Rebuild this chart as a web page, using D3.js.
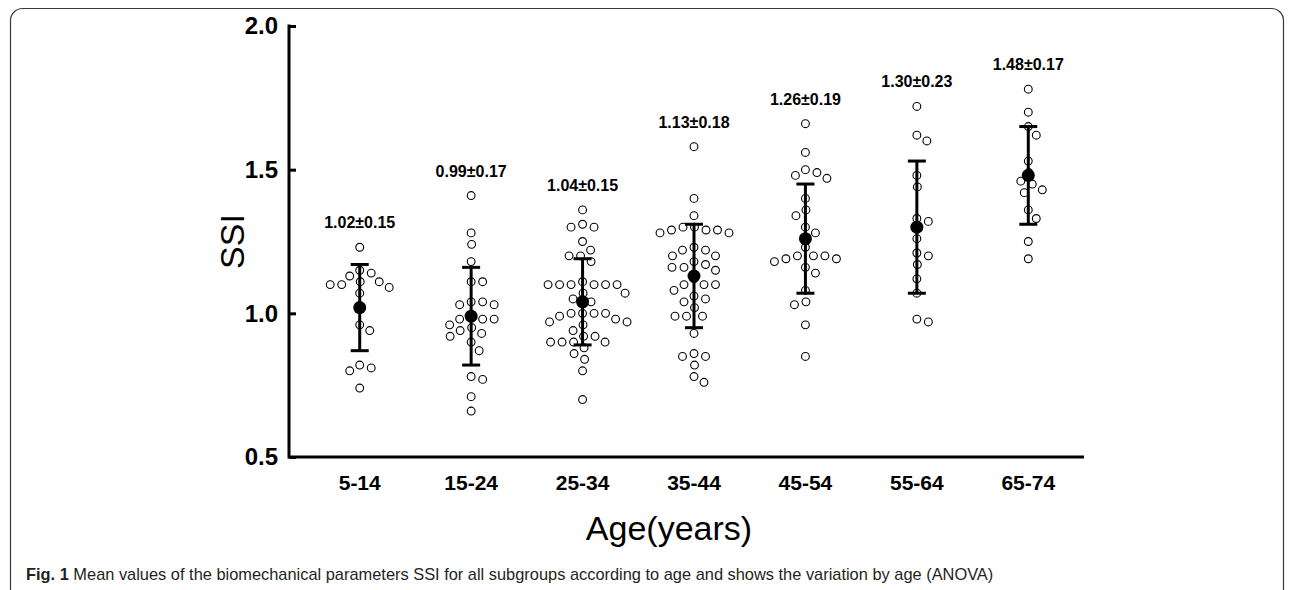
<!DOCTYPE html>
<html>
<head>
<meta charset="utf-8">
<script src="https://cdn.jsdelivr.net/npm/d3@7/dist/d3.min.js"></script>
<style>
  body { margin: 0; background: #fff; }
  text { font-family: "Liberation Sans", Arial, Helvetica, sans-serif; }
</style>
</head>
<body>
<svg width="1292" height="590"></svg>
<script>
// age groups and summary stats (mean ± SD as printed)
var ageGroups = ["5-14", "15-24", "25-34", "35-44", "45-54", "55-64", "65-74"];
var means = [1.02, 0.99, 1.04, 1.13, 1.26, 1.30, 1.48];
var sds = [0.15, 0.17, 0.15, 0.18, 0.19, 0.23, 0.17];
var yTicks = [0.5, 1.0, 1.5, 2.0];

// individual SSI values
var ssi5_14 = [1.23, 1.15, 1.14, 1.13, 1.11, 1.10, 1.09, 1.10, 1.11, 1.07, 0.96, 0.94, 0.81, 0.80, 0.82, 0.74];
var ssi15_24 = [1.41, 1.28, 1.24, 1.18, 1.11, 1.11, 1.04, 1.03, 1.03, 1.04, 0.99, 0.98, 0.98, 0.98,
  0.96, 0.94, 0.92, 0.93, 0.95, 0.90, 0.87, 0.78, 0.77, 0.71, 0.66];
var ssi25_34 = [1.36, 1.30, 1.30, 1.31, 1.25, 1.22, 1.20, 1.18, 1.20, 1.10, 1.10, 1.10, 1.10, 1.10,
  1.11, 1.07, 1.07, 1.05, 1.04, 1.00, 0.99, 1.00, 1.00, 0.98, 0.96, 0.97, 0.97, 0.94, 0.92, 0.92,
  0.90, 0.90, 0.90, 0.88, 0.86, 0.84, 0.80, 0.70, 1.10, 1.00, 0.90];
var ssi35_44 = [1.58, 1.40, 1.34, 1.29, 1.28, 1.28, 1.29, 1.30, 1.22, 1.23, 1.20, 1.20, 1.16, 1.15,
  1.17, 1.18, 1.12, 1.10, 1.10, 1.08, 1.06, 1.04, 1.02, 0.99, 0.99, 0.93, 0.85, 0.86, 0.82, 0.78,
  0.76, 1.29, 1.22, 1.16, 1.10, 1.05, 0.99, 0.85, 1.30];
var ssi45_54 = [1.66, 1.56, 1.50, 1.48, 1.47, 1.49, 1.40, 1.36, 1.34, 1.30, 1.28, 1.23, 1.20, 1.19,
  1.18, 1.19, 1.20, 1.20, 1.16, 1.14, 1.08, 1.03, 1.04, 0.96, 0.85];
var ssi55_64 = [1.72, 1.62, 1.60, 1.48, 1.44, 1.33, 1.32, 1.26, 1.20, 1.21, 1.17, 1.12, 1.07, 0.97, 0.98];
var ssi65_74 = [1.78, 1.70, 1.65, 1.62, 1.53, 1.49, 1.46, 1.45, 1.43, 1.42, 1.36, 1.33, 1.25, 1.19];
var groupValues = [ssi5_14, ssi15_24, ssi25_34, ssi35_44, ssi45_54, ssi55_64, ssi65_74];

var svg = d3.select("svg");

// figure frame
svg.append("rect")
  .attr("x", 10.5).attr("y", 8.5)
  .attr("width", 1273).attr("height", 640)
  .attr("rx", 12)
  .attr("fill", "none")
  .attr("stroke", "#3a3a3a")
  .attr("stroke-width", 1.2);

var x = d3.scaleBand().domain(ageGroups).range([304, 1084]);
var y = d3.scaleLinear().domain([0.5, 2.0]).range([457, 26]);
var axisX = 289;

var g = svg.append("g");

// y axis: ticks point inward
var yAxis = g.append("g")
  .attr("transform", "translate(" + axisX + ",0)")
  .call(d3.axisRight(y).tickValues(yTicks).tickSize(7).tickFormat(d3.format(".1f")));
yAxis.select(".domain").remove();
yAxis.selectAll(".tick line").attr("stroke", "#000").attr("stroke-width", 3);
yAxis.selectAll(".tick text")
  .attr("x", -11)
  .attr("text-anchor", "end")
  .attr("font-size", 24)
  .attr("font-weight", "bold")
  .attr("fill", "#000");
g.append("line")
  .attr("x1", axisX).attr("x2", axisX)
  .attr("y1", y(2.0) - 1.5).attr("y2", y(0.5) + 1.5)
  .attr("stroke", "#000").attr("stroke-width", 3);

// x axis
var xAxis = g.append("g")
  .attr("transform", "translate(0," + y(0.5) + ")")
  .call(d3.axisBottom(x).tickSize(0).tickPadding(0));
xAxis.select(".domain").remove();
xAxis.selectAll(".tick text")
  .attr("dy", "1.55em")
  .attr("font-size", 21)
  .attr("font-weight", "bold")
  .attr("fill", "#000");
g.append("line")
  .attr("x1", axisX).attr("x2", x.range()[1])
  .attr("y1", y(0.5)).attr("y2", y(0.5))
  .attr("stroke", "#000").attr("stroke-width", 3);

// axis titles
g.append("text")
  .attr("transform", "translate(244," + y(1.25) + ") rotate(-90)")
  .attr("text-anchor", "middle")
  .attr("font-size", 34)
  .text("SSI");
g.append("text")
  .attr("x", 669).attr("y", 540)
  .attr("text-anchor", "middle")
  .attr("font-size", 34)
  .text("Age(years)");

// simple beeswarm so open circles do not overlap
function swarm(values, cx, d) {
  var pts = values.map(function(v) { return { v: v, y: y(v) }; })
    .sort(function(a, b) { return a.y - b.y; });
  var placed = [];
  pts.forEach(function(p) {
    var off = null;
    for (var k = 0; k < 400 && off === null; k++) {
      var tries = k === 0 ? [0] : [k * 0.5, -k * 0.5];
      for (var t = 0; t < tries.length; t++) {
        var ok = placed.every(function(q) {
          var dx = q.x - (cx + tries[t]), dy = q.y - p.y;
          return dx * dx + dy * dy >= d * d;
        });
        if (ok) { off = tries[t]; break; }
      }
    }
    p.x = cx + off;
    placed.push(p);
  });
  return placed;
}

ageGroups.forEach(function(grp, i) {
  var cx = x(grp) + x.bandwidth() / 2;
  var pts = swarm(groupValues[i], cx, 11.5);

  g.append("g").selectAll("circle")
    .data(pts)
    .enter().append("circle")
    .attr("cx", function(d) { return d.x; })
    .attr("cy", function(d) { return d.y; })
    .attr("r", 3.9)
    .attr("fill", "none")
    .attr("stroke", "#000")
    .attr("stroke-width", 1.1);

  // mean ± SD
  var top = y(means[i] + sds[i]), bot = y(means[i] - sds[i]);
  g.append("line")
    .attr("x1", cx).attr("x2", cx).attr("y1", top).attr("y2", bot)
    .attr("stroke", "#000").attr("stroke-width", 3);
  [top, bot].forEach(function(yy) {
    g.append("line")
      .attr("x1", cx - 9).attr("x2", cx + 9).attr("y1", yy).attr("y2", yy)
      .attr("stroke", "#000").attr("stroke-width", 3);
  });
  g.append("circle")
    .attr("cx", cx).attr("cy", y(means[i]))
    .attr("r", 6.5)
    .attr("fill", "#000");

  g.append("text")
    .attr("x", cx)
    .attr("y", y(d3.max(groupValues[i])) - 19)
    .attr("text-anchor", "middle")
    .attr("font-size", 16)
    .attr("font-weight", "bold")
    .text(means[i].toFixed(2) + "\u00b1" + sds[i].toFixed(2));
});

// caption
var cap = svg.append("text")
  .attr("x", 26).attr("y", 580)
  .attr("font-size", 16.4)
  .attr("fill", "#231f20");
cap.append("tspan").attr("font-weight", "bold").text("Fig. 1");
cap.append("tspan").text(" Mean values of the biomechanical parameters SSI for all subgroups according to age and shows the variation by age (ANOVA)");
</script>
</body>
</html>
